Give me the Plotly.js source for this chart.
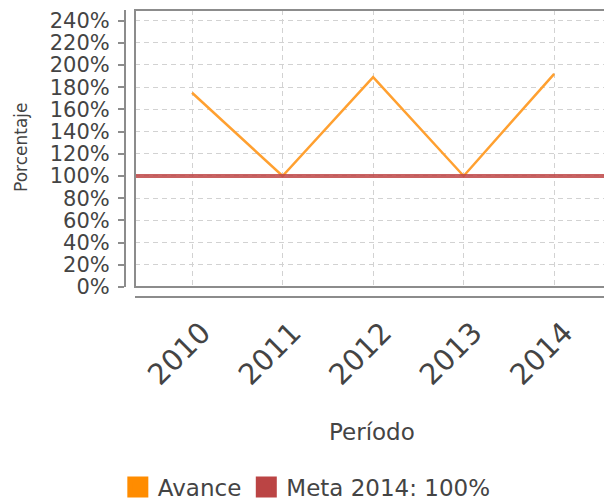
<!DOCTYPE html>
<html>
<head>
<meta charset="utf-8">
<script src="https://cdn.plot.ly/plotly-3.0.1.min.js"></script>
<style>html,body{margin:0;padding:0;background:#fff;}#chart{width:604px;height:503px;}</style>
</head>
<body>
<div id="chart"></div>
<script>
var periodos = ['2010', '2011', '2012', '2013', '2014'];
var avance = [175, 100, 189, 100, 192];
var meta = [100];
var yTicks = [0, 20, 40, 60, 80, 100, 120, 140, 160, 180, 200, 220, 240];
var nombreAvance = 'Avance';
var nombreMeta = 'Meta 2014: 100%';

var font = 'DejaVu Sans, sans-serif';
var txt = '#444';
var axisCol = '#8c8c8c';

var traces = [
  {x: periodos, y: avance, type: 'scatter', mode: 'lines', line: {color: '#FFA030', width: 2.5}, showlegend: false, hoverinfo: 'skip'},
  {x: [null], y: [null], type: 'scatter', mode: 'markers', name: nombreAvance, marker: {symbol: 'square', size: 16, color: '#FF8C00', line: {color: '#FF8C00', width: 5}}},
  {x: [null], y: [null], type: 'scatter', mode: 'markers', name: nombreMeta, marker: {symbol: 'square', size: 16, color: '#BB4444', line: {color: '#BB4444', width: 5}}}
];

var layout = {
  width: 604, height: 503,
  margin: {l: 125, r: 0, t: 10, b: 206},
  paper_bgcolor: '#fff', plot_bgcolor: '#fff',
  font: {family: font, color: txt},
  xaxis: {
    type: 'category', domain: [10/479, 1], range: [-0.63, 4.55],
    anchor: 'free', position: 0,
    showline: true, linecolor: axisCol, linewidth: 2,
    showgrid: true, gridcolor: '#d2d2d2', griddash: '5px,4px', gridwidth: 1,
    ticks: '', tickangle: -45, tickfont: {size: 29, color: txt, family: font},
    ticklabelstandoff: 6, ticklabelshift: 10, zeroline: false, fixedrange: true
  },
  yaxis: {
    domain: [10/287, 1], range: [0, 249.5],
    anchor: 'free', position: 0,
    tickvals: yTicks, ticktext: yTicks.map(function(v){return v + '%';}),
    showline: true, linecolor: axisCol, linewidth: 2,
    ticks: 'outside', ticklen: 6, tickwidth: 2, tickcolor: axisCol,
    showgrid: true, gridcolor: '#d2d2d2', griddash: '5px,4px', gridwidth: 1,
    tickfont: {size: 21, color: txt, family: font},
    ticklabelstandoff: 4, zeroline: false, fixedrange: true
  },
  shapes: [
    {type: 'line', xref: 'x domain', yref: 'y', x0: 0, x1: 1, y0: meta[0], y1: meta[0], line: {color: 'rgba(190,70,70,0.85)', width: 4}},
    {type: 'rect', xref: 'x domain', yref: 'y domain', x0: 0, x1: 1.02, y0: 0, y1: 1, line: {color: axisCol, width: 2}}
  ],
  annotations: [
    {text: 'Porcentaje', xref: 'paper', yref: 'paper', x: -104/479, y: (297-147)/287, xanchor: 'center', yanchor: 'middle', textangle: -90, showarrow: false, font: {size: 17, color: txt, family: font}},
    {text: 'Período', xref: 'paper', yref: 'paper', x: (372-125)/479, y: (297-432)/287, xanchor: 'center', yanchor: 'middle', showarrow: false, font: {size: 23, color: txt, family: font}}
  ],
  legend: {
    orientation: 'h', xref: 'container', yref: 'container', x: 0.508, y: 16/503, xanchor: 'center', yanchor: 'middle',
    font: {size: 23, color: txt, family: font}, itemwidth: 30, tracegroupgap: 0
  },
  hovermode: false
};

Plotly.newPlot('chart', traces, layout, {displayModeBar: false, staticPlot: true});
</script>
</body>
</html>
